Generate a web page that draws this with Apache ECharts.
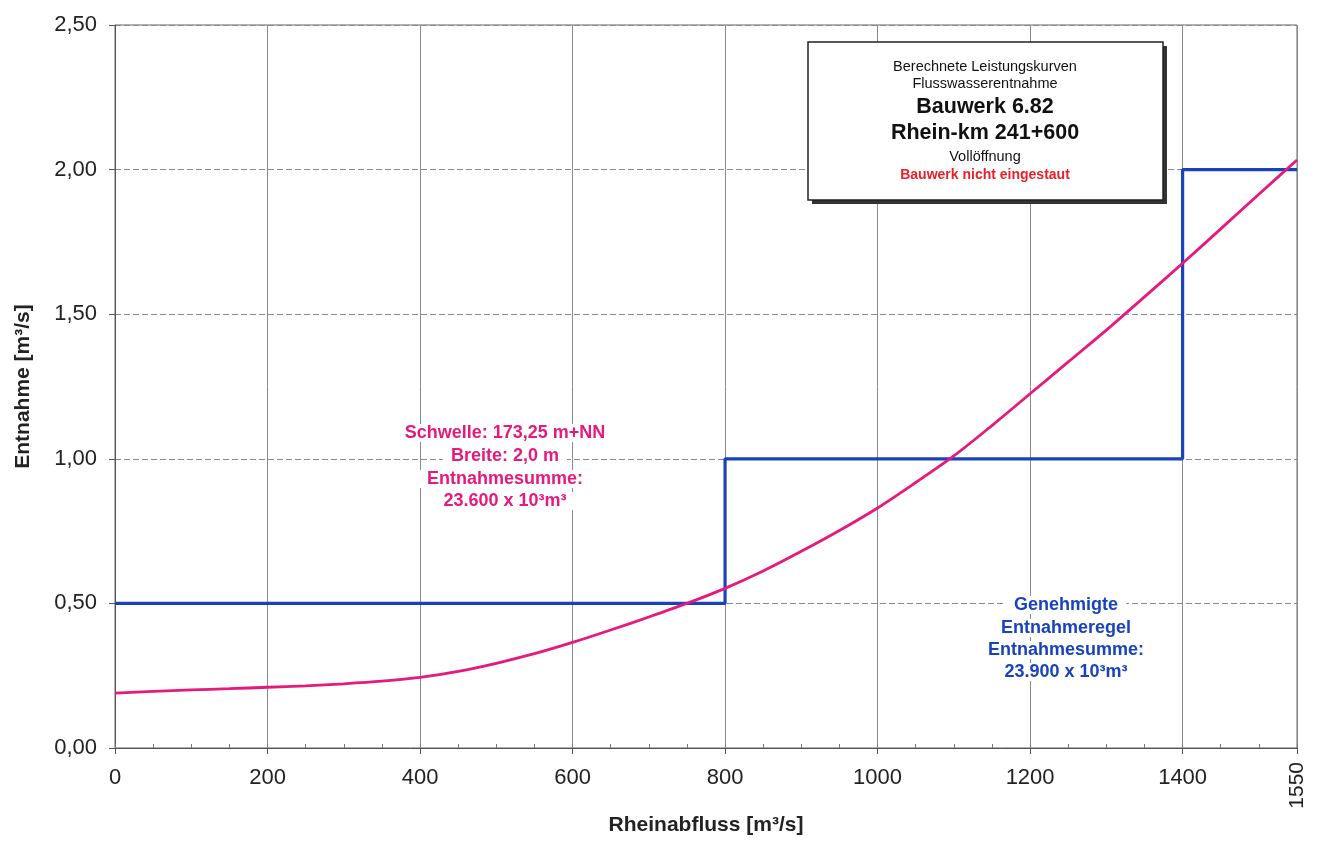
<!DOCTYPE html>
<html>
<head>
<meta charset="utf-8">
<script src="https://cdn.jsdelivr.net/npm/echarts@6/dist/echarts.min.js"></script>
<style>
html,body{margin:0;padding:0;background:#fff;}
#c{width:1322px;height:843px;}
</style>
</head>
<body>
<div id="c"></div>
<script>
// Data
var curveX = [0, 50, 100, 150, 200, 250, 300, 350, 400, 450, 500, 550, 600, 650, 700, 750, 800, 850, 900, 950, 1000, 1050, 1100, 1150, 1200, 1250, 1300, 1350, 1400, 1450, 1500, 1550];
var curveY = [0.19, 0.196, 0.201, 0.205, 0.21, 0.215, 0.222, 0.231, 0.244, 0.265, 0.293, 0.326, 0.365, 0.408, 0.453, 0.5, 0.552, 0.612, 0.68, 0.752, 0.83, 0.918, 1.01, 1.115, 1.225, 1.335, 1.445, 1.56, 1.676, 1.795, 1.915, 2.033];
var ruleX = [0, 800, 800, 1400, 1400, 1550];
var ruleY = [0.5, 0.5, 1.0, 1.0, 2.0, 2.0];
var yTicks = [0, 0.5, 1.0, 1.5, 2.0, 2.5];
var xTicks = [0, 200, 400, 600, 800, 1000, 1200, 1400];
var xMaxLabel = 1550;
var boxLines = ['Berechnete Leistungskurven', 'Flusswasserentnahme', 'Bauwerk 6.82', 'Rhein-km 241+600', 'Vollöffnung', 'Bauwerk nicht eingestaut'];
var pinkNote = ['Schwelle: 173,25 m+NN', 'Breite: 2,0 m', 'Entnahmesumme:', '23.600 x 10³m³'];
var blueNote = ['Genehmigte', 'Entnahmeregel', 'Entnahmesumme:', '23.900 x 10³m³'];

var FONT = '"Liberation Sans", Arial, sans-serif';
var PINK = '#e6197c';
var BLUE = '#1843bd';

function zip(a, b) { return a.map(function (v, i) { return [v, b[i]]; }); }

var chart = echarts.init(document.getElementById('c'));

var boxStyles = [
  {fontSize: 14.5, fontWeight: 'normal', fill: '#111', y: 67},
  {fontSize: 14.5, fontWeight: 'normal', fill: '#111', y: 84},
  {fontSize: 21.5, fontWeight: 'bold', fill: '#111', y: 107},
  {fontSize: 21.5, fontWeight: 'bold', fill: '#111', y: 133},
  {fontSize: 14.5, fontWeight: 'normal', fill: '#111', y: 157},
  {fontSize: 14, fontWeight: 'bold', fill: '#e8202a', y: 175}
];
var graphics = [
  {type: 'rect', shape: {x: 812, y: 46, width: 355, height: 158}, style: {fill: '#333'}, z: 100},
  {type: 'rect', shape: {x: 808, y: 42, width: 355, height: 158}, style: {fill: '#fff', stroke: '#222', lineWidth: 1.5}, z: 101}
];
boxLines.forEach(function (t, i) {
  var s = boxStyles[i];
  graphics.push({type: 'text', x: 985, y: s.y, z: 102,
    style: {text: t, fontFamily: FONT, fontSize: s.fontSize, fontWeight: s.fontWeight, fill: s.fill, align: 'center', verticalAlign: 'middle'}});
});
var pinkY = [433, 456, 479, 501];
pinkNote.forEach(function (t, i) {
  graphics.push({type: 'text', x: 505, y: pinkY[i], z: 102,
    style: {text: t, fontFamily: FONT, fontSize: 18, fontWeight: 'bold', fill: PINK, align: 'center', verticalAlign: 'middle', backgroundColor: '#fff', padding: [0, 8]}});
});
var blueY = [605, 628, 650, 672];
blueNote.forEach(function (t, i) {
  graphics.push({type: 'text', x: 1066, y: blueY[i], z: 102,
    style: {text: t, fontFamily: FONT, fontSize: 18, fontWeight: 'bold', fill: BLUE, align: 'center', verticalAlign: 'middle', backgroundColor: '#fff', padding: [0, 8]}});
});

var option = {
  backgroundColor: '#fff',
  animation: false,
  grid: {left: 115, right: 25, top: 25, bottom: 95, show: true, borderColor: '#666', borderWidth: 1},
  xAxis: [{
    type: 'value', min: 0, max: 1550, interval: 200,
    name: 'Rheinabfluss [m³/s]', nameLocation: 'middle', nameGap: 67,
    nameTextStyle: {fontFamily: FONT, fontSize: 21, fontWeight: 'bold', color: '#222'},
    axisLine: {show: true, lineStyle: {color: '#555', width: 1}},
    axisTick: {show: true, length: 6, lineStyle: {color: '#555'}},
    axisLabel: {fontFamily: FONT, fontSize: 22, color: '#222', margin: 19,
      formatter: function (v) { return xTicks.indexOf(v) >= 0 ? String(v) : ''; }},
    splitLine: {show: true, lineStyle: {color: '#8a8a8a', width: 1}}
  }, {
    type: 'value', min: 0, max: 1550, interval: 50, position: 'bottom',
    axisLine: {show: false},
    axisTick: {show: true, inside: true, length: 4, lineStyle: {color: '#777'}},
    axisLabel: {show: true, rotate: 90, fontFamily: FONT, fontSize: 21, color: '#222', margin: 14, showMaxLabel: true,
      formatter: function (v) { return v === xMaxLabel ? String(v) : ''; }},
    splitLine: {show: false}
  }],
  yAxis: {
    type: 'value', min: 0, max: 2.5, interval: 0.5,
    name: 'Entnahme [m³/s]', nameLocation: 'middle', nameGap: 81,
    nameTextStyle: {fontFamily: FONT, fontSize: 21, fontWeight: 'bold', color: '#222'},
    axisLine: {show: true, lineStyle: {color: '#555', width: 1}},
    axisTick: {show: true, length: 6, lineStyle: {color: '#555'}},
    axisLabel: {fontFamily: FONT, fontSize: 22, color: '#222', margin: 18,
      formatter: function (v) { return yTicks.indexOf(v) >= 0 ? v.toFixed(2).replace('.', ',') : ''; }},
    splitLine: {show: true, lineStyle: {color: '#8a8a8a', width: 1, type: [6, 3]}}
  },
  series: [{
    type: 'line', data: zip(ruleX, ruleY), showSymbol: false, symbol: 'none',
    lineStyle: {color: BLUE, width: 3.2}, z: 5
  }, {
    type: 'line', data: zip(curveX, curveY), showSymbol: false, symbol: 'none', smooth: 0.3,
    lineStyle: {color: PINK, width: 2.8}, z: 6
  }],
  graphic: graphics
};
chart.setOption(option);
</script>
</body>
</html>
